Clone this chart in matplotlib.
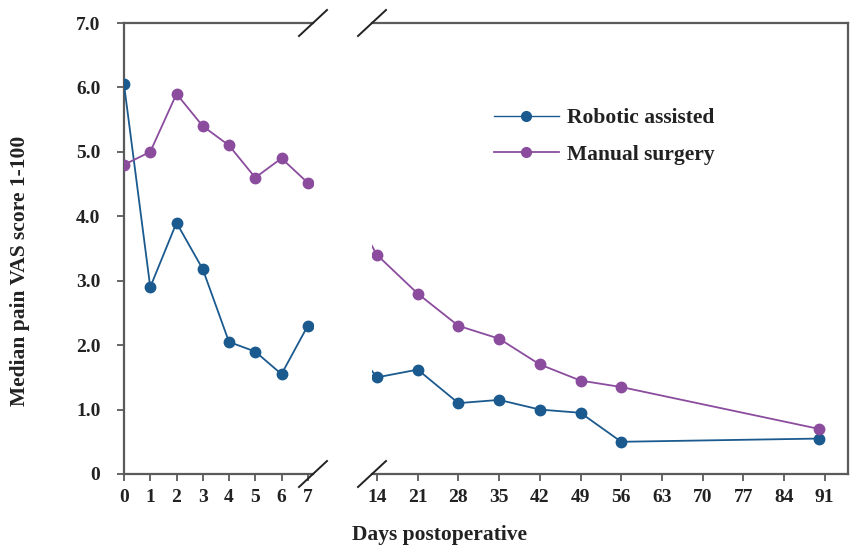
import matplotlib
matplotlib.use("Agg")
import matplotlib.pyplot as plt
from matplotlib.lines import Line2D

plt.rcParams['font.family'] = ['Liberation Serif', 'DejaVu Serif']

days = [0, 1, 2, 3, 4, 5, 6, 7, 14, 21, 28, 35, 42, 49, 56, 90]
robotic = [6.05, 2.9, 3.9, 3.18, 2.05, 1.9, 1.55, 2.3, 1.5, 1.62, 1.1, 1.15, 1.0, 0.95, 0.5, 0.55]
manual = [4.8, 5.0, 5.9, 5.4, 5.1, 4.6, 4.9, 4.52, 3.4, 2.8, 2.3, 2.1, 1.7, 1.45, 1.35, 0.7]
left_ticks = [0, 1, 2, 3, 4, 5, 6, 7]
right_ticks = [14, 21, 28, 35, 42, 49, 56, 63, 70, 77, 84, 91]
y_ticks = [0, 1, 2, 3, 4, 5, 6, 7]
y_labels = ["0", "1.0", "2.0", "3.0", "4.0", "5.0", "6.0", "7.0"]

blue = "#1b5a8e"
purple = "#8b4c9e"
spine_c = "#5a5a5a"
txt_c = "#222222"

W, H = 861, 548
fig = plt.figure(figsize=(W / 100, H / 100), dpi=100)

def fx(px):
    return px / W

def fy(py):
    return 1 - py / H

bottom = fy(474)
top = fy(23)
axL = fig.add_axes([fx(124), bottom, fx(313) - fx(124), top - bottom])
axR = fig.add_axes([fx(372), bottom, fx(848) - fx(372), top - bottom])

for ax in (axL, axR):
    ax.plot(days, robotic, color=blue, lw=1.3, marker='o', ms=7.5, zorder=3)
    ax.plot(days, manual, color=purple, lw=1.3, marker='o', ms=7.5, zorder=3)
    ax.set_ylim(0, 7)
    for s in ax.spines.values():
        s.set_color(spine_c)
        s.set_linewidth(1.6)
    ax.tick_params(axis='both', direction='out', length=5, width=1.3, color=spine_c,
                   labelsize=14, labelcolor=txt_c)

axL.set_xlim(0, 7.2)
axL.set_xticks(left_ticks)
axL.set_xticklabels([str(t) for t in left_ticks], fontweight='bold')
axL.set_yticks(y_ticks)
axL.set_yticklabels(y_labels, fontweight='bold')
axL.tick_params(axis='y', pad=12)
axL.tick_params(axis='x', pad=6)
axL.spines['right'].set_visible(False)

axR.set_xlim(13.14, 95.0)
axR.set_xticks(right_ticks)
axR.set_xticklabels([str(t) for t in right_ticks], fontweight='bold')
axR.set_yticks([])
axR.tick_params(axis='x', pad=6)
axR.spines['left'].set_visible(False)

# break marks
def brk(px, py):
    fig.add_artist(Line2D([fx(px - 14), fx(px + 14)], [fy(py + 13), fy(py - 13)],
                          color="#222222", lw=1.4, transform=fig.transFigure))

for px in (313, 372):
    for py in (23, 474):
        brk(px, py)

# legend
leg_handles = [Line2D([], [], color=blue, lw=1.0, marker='o', ms=7),
               Line2D([], [], color=purple, lw=1.3, marker='o', ms=7)]
fig.legend(leg_handles, ["Robotic assisted", "Manual surgery"],
           loc='upper left', bbox_to_anchor=(fx(494), fy(108)),
           frameon=False, prop={'size': 15.5, 'weight': 'bold'},
           handlelength=3.0, handletextpad=0.4, labelspacing=0.78,
           labelcolor=txt_c, borderaxespad=0, borderpad=0)

fig.text(fx(20), fy(271), "Median pain VAS score 1-100", rotation=90,
         ha='center', va='center', fontsize=15.5, fontweight='bold', color=txt_c)
fig.text(fx(440), fy(535), "Days postoperative", ha='center', va='center',
         fontsize=15.5, fontweight='bold', color=txt_c)

fig.savefig("out.png", dpi=100)
